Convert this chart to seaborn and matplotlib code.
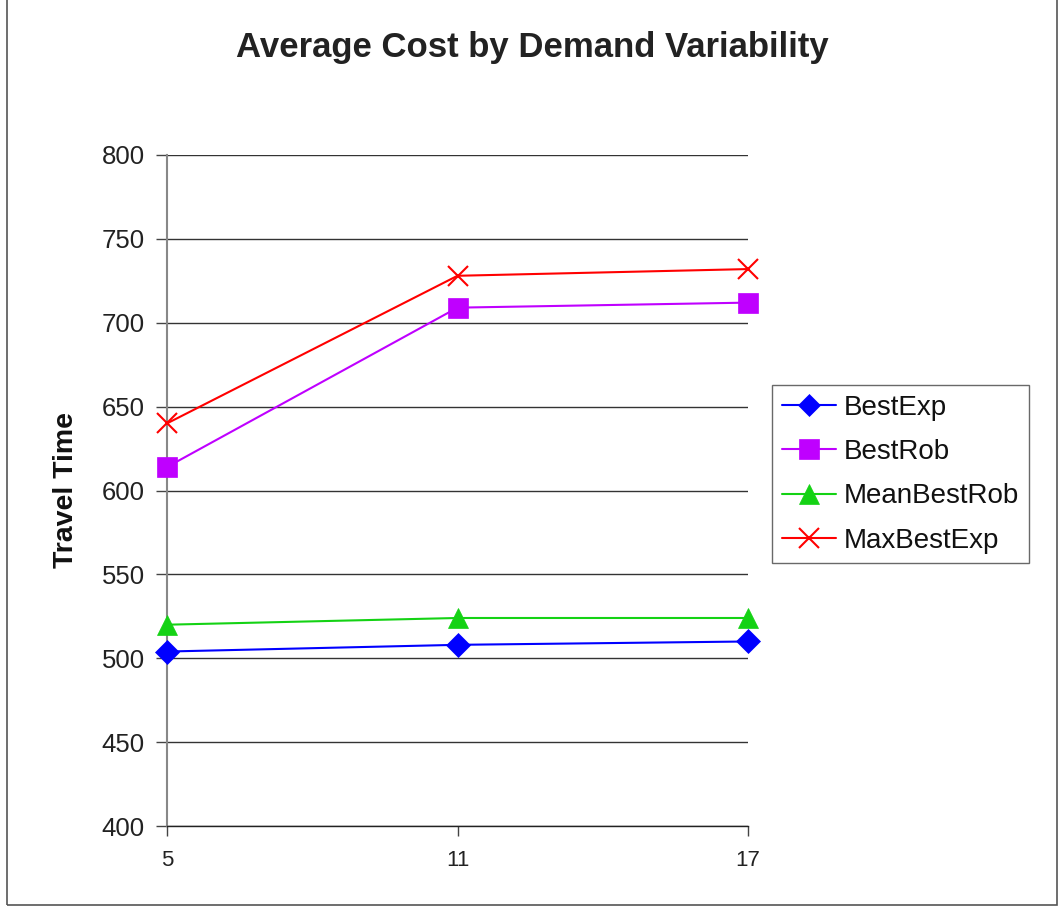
import matplotlib
matplotlib.use("Agg")
import matplotlib.pyplot as plt
from matplotlib.patches import Rectangle
import seaborn as sns
import pandas as pd

# Demand variability levels and average travel time per strategy
variability = [5, 11, 17]
best_exp = [504, 508, 510]
best_rob = [614, 709, 712]
mean_best_rob = [520, 524, 524]
max_best_exp = [640, 728, 732]

series_names = ["BestExp", "BestRob", "MeanBestRob", "MaxBestExp"]
series_values = [best_exp, best_rob, mean_best_rob, max_best_exp]
colors = ["#0000FF", "#BF00FF", "#14D214", "#FF0000"]
markers = ["D", "s", "^", "x"]
msizes = [12, 15, 15, 15]

sns.set_theme(style="white")
plt.rcParams["font.family"] = ["Liberation Sans", "DejaVu Sans"]

fig = plt.figure(figsize=(10.64, 9.08), dpi=100)
ax = fig.add_axes([167 / 1064, 1 - 826 / 908, (748 - 167) / 1064, (826 - 155) / 908])

for name, vals, c, m, ms in zip(series_names, series_values, colors, markers, msizes):
    df = pd.DataFrame({"x": variability, "y": vals})
    sns.lineplot(data=df, x="x", y="y", ax=ax, color=c, marker=m, markersize=ms,
                 markeredgecolor=c, markerfacecolor=c,
                 markeredgewidth=1.5 if m == "x" else 0.5,
                 linewidth=1.5, label=name, clip_on=False, zorder=3)

ax.set_xlim(5, 17)
ax.set_ylim(400, 800)
ax.set_xticks(variability)
ax.set_xticklabels([str(v) for v in variability], fontsize=16, color="#222222")
ax.set_yticks(range(400, 801, 50))
ax.tick_params(axis="y", labelsize=18.5, length=8, width=1, color="#444444",
               labelcolor="#222222", pad=8, direction="out", left=True)
ax.tick_params(axis="x", length=7, width=1, color="#444444", pad=10,
               direction="out", bottom=True)
ax.yaxis.grid(True, color="#333333", linewidth=1.0)
ax.set_axisbelow(True)
for side in ["top", "right"]:
    ax.spines[side].set_visible(False)
ax.spines["left"].set_color("#888888")
ax.spines["left"].set_linewidth(1.5)
ax.spines["bottom"].set_color("#222222")
ax.spines["bottom"].set_linewidth(1.0)

ax.set_xlabel("")
ax.set_ylabel("Travel Time", fontsize=20.5, fontweight="bold", labelpad=16, color="#111111")

fig.text(0.5, 1 - 47 / 908, "Average Cost by Demand Variability", ha="center", va="center",
         fontsize=25, fontweight="bold", color="#222222")

leg = ax.legend(loc="upper left", bbox_to_anchor=(772 / 1064, 1 - 385 / 908),
                bbox_transform=fig.transFigure, borderaxespad=0, fontsize=20,
                frameon=True, fancybox=False, handlelength=1.95, handletextpad=0.3,
                labelspacing=0.66, borderpad=0.35, markerscale=0.95)
leg.get_frame().set_edgecolor("#444444")
leg.get_frame().set_linewidth(1.0)
for t in leg.get_texts():
    t.set_color("#111111")

# Outer frame around the chart
fig.patches.append(Rectangle((7 / 1064, 3 / 908), 1050 / 1064, 1.0, transform=fig.transFigure,
                             fill=False, edgecolor="#555555", linewidth=1.2, zorder=0))

fig.savefig("out.png", dpi=100)
